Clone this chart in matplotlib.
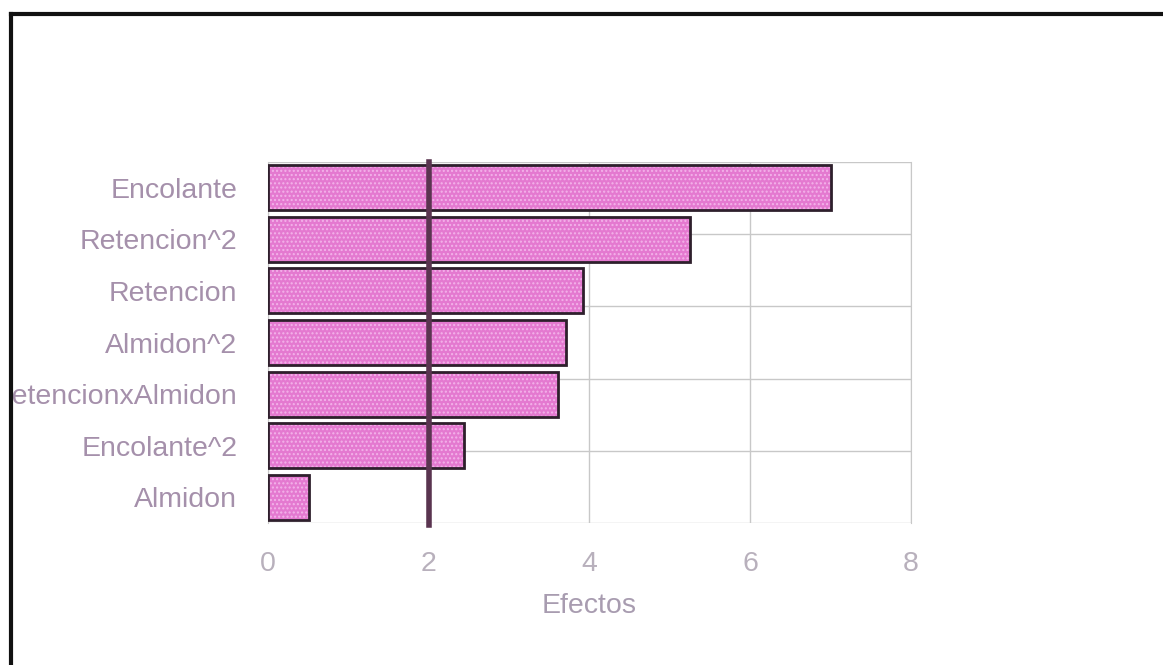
import matplotlib.pyplot as plt
import matplotlib.lines as mlines
import matplotlib.patches as mpatches
import numpy as np

# datos del gráfico de efectos
factores = ['Encolante', 'Retencion^2', 'Retencion', 'Almidon^2',
            'RetencionxAlmidon', 'Encolante^2', 'Almidon']
efectos = [7.01, 5.25, 3.92, 3.71, 3.61, 2.44, 0.51]
limite = 2.0
x_ticks = [0, 2, 4, 6, 8]

plt.rcParams['font.family'] = ['Liberation Sans', 'DejaVu Sans']

fig = plt.figure(figsize=(11.63, 6.65), dpi=100)
ax = fig.add_axes([0.2304, 0.2135, 0.5529, 0.5429])

# orden de arriba hacia abajo
y = np.arange(len(factores))[::-1]

# relleno con textura y borde oscuro
ax.barh(y, efectos, height=0.87, color='#e479d0', edgecolor='#f3b3ea',
        hatch='....', linewidth=0, zorder=2)
ax.barh(y, efectos, height=0.87, fill=False, edgecolor='#2e1f2c',
        linewidth=2, zorder=3)

ax.axvline(limite, ymin=-0.005, color='#5a3450', linewidth=4, zorder=4,
           clip_on=False)

ax.set_xlim(0, 8)
ax.set_ylim(-0.5, len(factores) - 0.5)
ax.set_xticks(x_ticks)
ax.set_xticklabels([str(v) for v in x_ticks])
ax.set_yticks(y)
ax.set_yticklabels(factores)

# rejilla: verticales en los ticks, horizontales a intervalos iguales
ax.grid(axis='x', color='#c8c8c8', linewidth=1, zorder=0)
y0, y1 = ax.get_ylim()
for f in np.linspace(0, 1, 6):
    ax.axhline(y0 + f * (y1 - y0), color='#c8c8c8', linewidth=1, zorder=0)

for s in ax.spines.values():
    s.set_visible(False)
for lado in ['left', 'right']:
    ax.spines[lado].set_visible(True)
    ax.spines[lado].set_color('#c8c8c8')

ax.tick_params(axis='y', length=0, pad=22, labelsize=20.5, labelcolor='#a590ab')
ax.tick_params(axis='x', length=0, pad=20, labelsize=20.5, labelcolor='#b8b0bc')
ax.set_xlabel('Efectos', fontsize=20.5, color='#a89cb0', labelpad=12)

# marco negro recortado (izquierda y arriba)
fig.add_artist(mpatches.Rectangle((0, 0), 11 / 1163, 1, transform=fig.transFigure,
                                  facecolor='white', edgecolor='none', zorder=10))
fig.add_artist(mlines.Line2D([11 / 1163, 11 / 1163], [0, 1 - 14 / 665],
                             transform=fig.transFigure, color='#111111',
                             linewidth=3, zorder=11))
fig.add_artist(mlines.Line2D([11 / 1163, 1], [1 - 14 / 665, 1 - 14 / 665],
                             transform=fig.transFigure, color='#111111',
                             linewidth=3, zorder=11))

plt.savefig('out.png', dpi=100)
